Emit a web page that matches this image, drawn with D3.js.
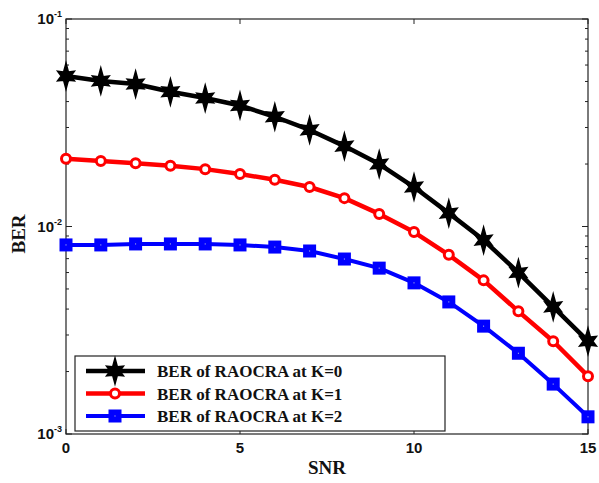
<!DOCTYPE html>
<html>
<head>
<meta charset="utf-8">
<script src="https://cdn.jsdelivr.net/npm/d3@7"></script>
<style>
	body { margin: 0; background: #fff; }
	svg { display: block; }
</style>
</head>
<body>
<div id="plot"></div>
<script>

const snr = [ 0, 1, 2, 3, 4, 5, 6, 7, 8, 9, 10, 11, 12, 13, 14, 15 ];

const ber_k0 = [ 0.0531, 0.0503, 0.0486, 0.0446, 0.0416, 0.0383, 0.0338, 0.0292, 0.0244, 0.0200, 0.0155, 0.0116, 0.0086, 0.0060, 0.0041, 0.0028 ];
const ber_k1 = [ 0.0212, 0.0207, 0.0202, 0.0196, 0.0189, 0.0179, 0.0168, 0.0155, 0.0137, 0.0115, 0.0094, 0.0073, 0.0055, 0.0039, 0.0028, 0.0019 ];
const ber_k2 = [ 0.00815, 0.00815, 0.00824, 0.00824, 0.00824, 0.00815, 0.00796, 0.00762, 0.00697, 0.0063, 0.00535, 0.00433, 0.00331, 0.00245, 0.00174, 0.00121 ];

const legend_labels = [ "BER of RAOCRA at K=0", "BER of RAOCRA at K=1", "BER of RAOCRA at K=2" ];
const x_ticks = [ 0, 5, 10, 15 ];
const y_ticks = [ 1e-3, 1e-2, 1e-1 ];
const y_tick_exp = [ "-3", "-2", "-1" ];

///////////////////////////////////////////////////////////////////////

const width = 599, height = 483;
const margin = { left: 66, right: 11, top: 19, bottom: 49 };

const svg = d3.select( "#plot" )
	.append( "svg" )
		.attr( "width", width )
		.attr( "height", height );

const x = d3.scaleLinear()
	.domain( [ 0, 15 ] )
	.range( [ margin.left, width - margin.right ] );

const y = d3.scaleLog()
	.domain( [ 1e-3, 1e-1 ] )
	.range( [ height - margin.bottom, margin.top ] );

const x0 = x.range()[ 0 ], x1 = x.range()[ 1 ];
const y0 = y.range()[ 0 ], y1 = y.range()[ 1 ];

// minor ticks on the log axis
let minor = [];
for( let d = 1e-3; d < 1e-1; d *= 10 )
	for( let m = 2; m <= 9; m++ ) minor.push( d * m );

const ticks = svg.append( "g" )
	.attr( "stroke", "#222" )
	.attr( "stroke-width", 1 );

minor.forEach( v => {
	ticks.append( "line" ).attr( "x1", x0 ).attr( "x2", x0 + 3 ).attr( "y1", y( v ) ).attr( "y2", y( v ) );
	ticks.append( "line" ).attr( "x1", x1 ).attr( "x2", x1 - 3 ).attr( "y1", y( v ) ).attr( "y2", y( v ) );
} );
y_ticks.forEach( v => {
	ticks.append( "line" ).attr( "x1", x0 ).attr( "x2", x0 + 6 ).attr( "y1", y( v ) ).attr( "y2", y( v ) );
	ticks.append( "line" ).attr( "x1", x1 ).attr( "x2", x1 - 6 ).attr( "y1", y( v ) ).attr( "y2", y( v ) );
} );
x_ticks.forEach( v => {
	ticks.append( "line" ).attr( "x1", x( v ) ).attr( "x2", x( v ) ).attr( "y1", y0 ).attr( "y2", y0 - 5 );
	ticks.append( "line" ).attr( "x1", x( v ) ).attr( "x2", x( v ) ).attr( "y1", y1 ).attr( "y2", y1 + 5 );
} );

// frame
svg.append( "rect" )
	.attr( "x", x0 ).attr( "y", y1 )
	.attr( "width", x1 - x0 ).attr( "height", y0 - y1 )
	.attr( "fill", "none" )
	.attr( "stroke", "#222" )
	.attr( "stroke-width", 1.2 );

// tick labels
svg.append( "g" )
	.selectAll( "text" )
	.data( x_ticks )
	.join( "text" )
		.attr( "x", d => x( d ) )
		.attr( "y", y0 + 19 )
		.attr( "text-anchor", "middle" )
		.attr( "font-family", "Liberation Sans, Arial, sans-serif" )
		.attr( "font-weight", "bold" )
		.attr( "font-size", 15 )
		.attr( "fill", "#111" )
		.text( d => d );

const ylab = svg.append( "g" )
	.selectAll( "text" )
	.data( y_ticks )
	.join( "text" )
		.attr( "x", x0 - 4 )
		.attr( "y", d => y( d ) + 5 )
		.attr( "text-anchor", "end" )
		.attr( "font-family", "Liberation Sans, Arial, sans-serif" )
		.attr( "font-weight", "bold" )
		.attr( "font-size", 15 )
		.attr( "fill", "#111" );
ylab.append( "tspan" ).text( "10" );
ylab.append( "tspan" )
	.attr( "dy", -7 )
	.attr( "font-size", 9 )
	.text( ( d, i ) => y_tick_exp[ i ] );

// axis titles
svg.append( "text" )
	.attr( "x", ( x0 + x1 ) / 2 )
	.attr( "y", height - 9 )
	.attr( "text-anchor", "middle" )
	.attr( "font-family", "Liberation Serif, Times New Roman, serif" )
	.attr( "font-weight", "bold" )
	.attr( "font-size", 19 )
	.attr( "fill", "#111" )
	.text( "SNR" );

svg.append( "text" )
	.attr( "transform", "translate(25," + 234 + ") rotate(-90)" )
	.attr( "text-anchor", "middle" )
	.attr( "font-family", "Liberation Serif, Times New Roman, serif" )
	.attr( "font-weight", "bold" )
	.attr( "font-size", 19 )
	.attr( "fill", "#111" )
	.text( "BER" );

///////////////////////////////////////////////////////////////////////

function star_path( ro, ri )	{
	let pts = [];
	for( let k = 0; k < 12; k++ )	{
		let a = k * Math.PI / 6;
		let r = ( k % 2 === 0 ) ? ro * ( k % 6 === 0 ? 1.0 : 0.75 ) : ri;
		pts.push( [ r * Math.sin( a ), -r * Math.cos( a ) ] );
	}
	return "M" + pts.map( p => p[ 0 ].toFixed( 2 ) + "," + p[ 1 ].toFixed( 2 ) ).join( "L" ) + "Z";
}

const series = [
	{ values: ber_k0, color: "#000", width: 4.5, marker: "star" },
	{ values: ber_k1, color: "#f00", width: 4.5, marker: "circle" },
	{ values: ber_k2, color: "#00f", width: 4, marker: "square" }
];

function draw_marker( g, s )	{
	if( s.marker === "star" )	{
		g.append( "path" )
			.attr( "d", star_path( 13, 4.8 ) )
			.attr( "fill", s.color )
			.attr( "stroke", s.color )
			.attr( "stroke-width", 1.5 )
			.attr( "stroke-linejoin", "miter" );
	}
	else if( s.marker === "circle" )	{
		g.append( "circle" )
			.attr( "r", 4.5 )
			.attr( "fill", "#fff" )
			.attr( "stroke", s.color )
			.attr( "stroke-width", 3 );
	}
	else	{
		g.append( "rect" )
			.attr( "x", -6.5 ).attr( "y", -6.5 )
			.attr( "width", 13 ).attr( "height", 13 )
			.attr( "fill", s.color );
		g.append( "rect" )
			.attr( "x", -0.5 ).attr( "y", -0.5 )
			.attr( "width", 1 ).attr( "height", 1 )
			.attr( "fill", "#ccd" );
	}
}

const line = d3.line()
	.x( ( d, i ) => x( snr[ i ] ) )
	.y( d => y( d ) );

series.forEach( s => {
	svg.append( "path" )
		.datum( s.values )
		.attr( "d", line )
		.attr( "fill", "none" )
		.attr( "stroke", s.color )
		.attr( "stroke-width", s.width )
		.attr( "stroke-linejoin", "round" );

	svg.append( "g" )
		.selectAll( "g" )
		.data( s.values )
		.join( "g" )
			.attr( "transform", ( d, i ) => "translate(" + x( snr[ i ] ) + "," + y( d ) + ")" )
			.each( function()	{ draw_marker( d3.select( this ), s ); } );
} );

///////////////////////////////////////////////////////////////////////

// legend
const legend = svg.append( "g" );

legend.append( "rect" )
	.attr( "x", 75 ).attr( "y", 356 )
	.attr( "width", 370 ).attr( "height", 75 )
	.attr( "fill", "#fff" )
	.attr( "stroke", "#222" )
	.attr( "stroke-width", 1.2 );

series.forEach( ( s, i ) => {
	let ly = 371 + i * 22.5;
	legend.append( "line" )
		.attr( "x1", 86 ).attr( "x2", 145 )
		.attr( "y1", ly ).attr( "y2", ly )
		.attr( "stroke", s.color )
		.attr( "stroke-width", s.width );
	draw_marker( legend.append( "g" ).attr( "transform", "translate(115," + ly + ")" ), s );
	legend.append( "text" )
		.attr( "x", 157 )
		.attr( "y", ly + 6 )
		.attr( "font-family", "Liberation Serif, Times New Roman, serif" )
		.attr( "font-weight", "bold" )
		.attr( "font-size", 17 )
		.attr( "fill", "#111" )
		.text( legend_labels[ i ] );
} );

</script>
</body>
</html>
